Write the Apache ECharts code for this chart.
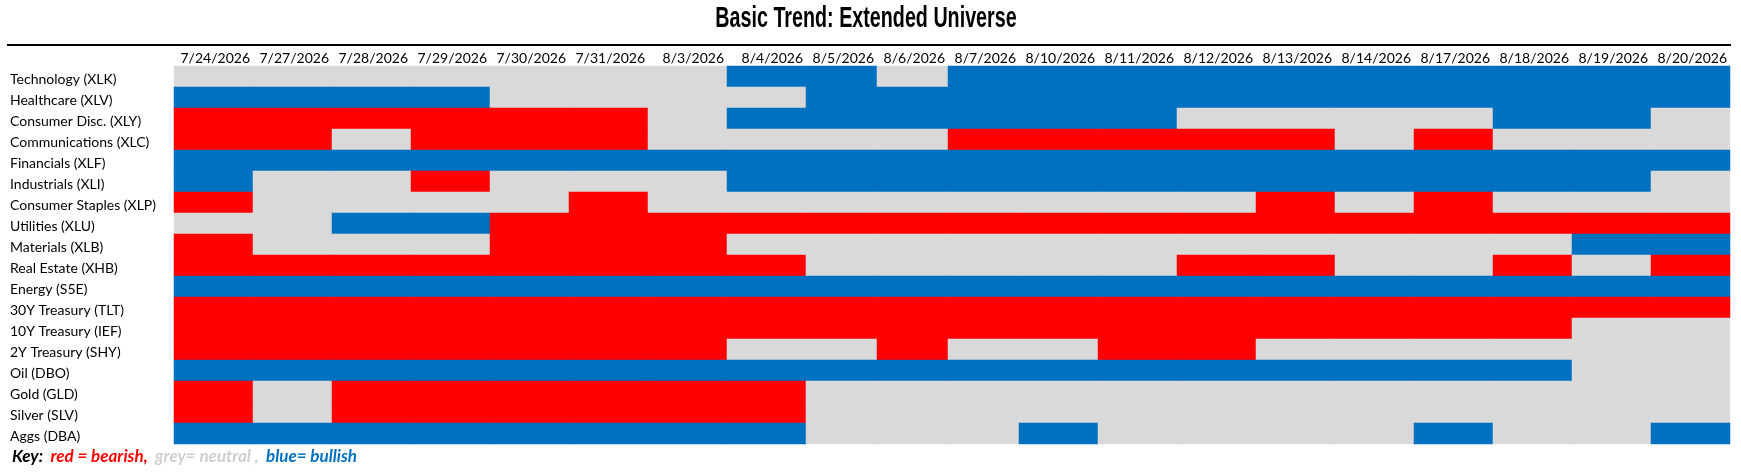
<!DOCTYPE html>
<html>
<head>
<meta charset="utf-8">
<script src="https://cdn.jsdelivr.net/npm/echarts@6/dist/echarts.min.js"></script>
<style>
html,body{margin:0;padding:0;background:#fff;}
#chart{width:1741px;height:473px;}
</style>
</head>
<body>
<div id="chart"></div>
<script>
// ---- data ----
const dates = ['7/24/2026','7/27/2026','7/28/2026','7/29/2026','7/30/2026','7/31/2026','8/3/2026','8/4/2026','8/5/2026','8/6/2026','8/7/2026','8/10/2026','8/11/2026','8/12/2026','8/13/2026','8/14/2026','8/17/2026','8/18/2026','8/19/2026','8/20/2026'];

const assets = ['Technology (XLK)','Healthcare (XLV)','Consumer Disc. (XLY)','Communications (XLC)','Financials (XLF)','Industrials (XLI)','Consumer Staples (XLP)','Utilities (XLU)','Materials (XLB)','Real Estate (XHB)','Energy (S5E)','30Y Treasury (TLT)','10Y Treasury (IEF)','2Y Treasury (SHY)','Oil (DBO)','Gold (GLD)','Silver (SLV)','Aggs (DBA)'];

// -1 = bearish (red), 0 = neutral (grey), 1 = bullish (blue)
const technology      = [ 0, 0, 0, 0, 0, 0, 0, 1, 1, 0, 1, 1, 1, 1, 1, 1, 1, 1, 1, 1];
const healthcare      = [ 1, 1, 1, 1, 0, 0, 0, 0, 1, 1, 1, 1, 1, 1, 1, 1, 1, 1, 1, 1];
const consumerDisc    = [-1,-1,-1,-1,-1,-1, 0, 1, 1, 1, 1, 1, 1, 0, 0, 0, 0, 1, 1, 0];
const communications  = [-1,-1, 0,-1,-1,-1, 0, 0, 0, 0,-1,-1,-1,-1,-1, 0,-1, 0, 0, 0];
const financials      = [ 1, 1, 1, 1, 1, 1, 1, 1, 1, 1, 1, 1, 1, 1, 1, 1, 1, 1, 1, 1];
const industrials     = [ 1, 0, 0,-1, 0, 0, 0, 1, 1, 1, 1, 1, 1, 1, 1, 1, 1, 1, 1, 0];
const consumerStaples = [-1, 0, 0, 0, 0,-1, 0, 0, 0, 0, 0, 0, 0, 0,-1, 0,-1, 0, 0, 0];
const utilities       = [ 0, 0, 1, 1,-1,-1,-1,-1,-1,-1,-1,-1,-1,-1,-1,-1,-1,-1,-1,-1];
const materials       = [-1, 0, 0, 0,-1,-1,-1, 0, 0, 0, 0, 0, 0, 0, 0, 0, 0, 0, 1, 1];
const realEstate      = [-1,-1,-1,-1,-1,-1,-1,-1, 0, 0, 0, 0, 0,-1,-1, 0, 0,-1, 0,-1];
const energy          = [ 1, 1, 1, 1, 1, 1, 1, 1, 1, 1, 1, 1, 1, 1, 1, 1, 1, 1, 1, 1];
const treasury30Y     = [-1,-1,-1,-1,-1,-1,-1,-1,-1,-1,-1,-1,-1,-1,-1,-1,-1,-1,-1,-1];
const treasury10Y     = [-1,-1,-1,-1,-1,-1,-1,-1,-1,-1,-1,-1,-1,-1,-1,-1,-1,-1, 0, 0];
const treasury2Y      = [-1,-1,-1,-1,-1,-1,-1, 0, 0,-1, 0, 0,-1,-1, 0, 0, 0, 0, 0, 0];
const oil             = [ 1, 1, 1, 1, 1, 1, 1, 1, 1, 1, 1, 1, 1, 1, 1, 1, 1, 1, 0, 0];
const gold            = [-1, 0,-1,-1,-1,-1,-1,-1, 0, 0, 0, 0, 0, 0, 0, 0, 0, 0, 0, 0];
const silver          = [-1, 0,-1,-1,-1,-1,-1,-1, 0, 0, 0, 0, 0, 0, 0, 0, 0, 0, 0, 0];
const aggs            = [ 1, 1, 1, 1, 1, 1, 1, 1, 0, 0, 0, 1, 0, 0, 0, 0, 1, 0, 0, 1];

const rows = [technology, healthcare, consumerDisc, communications, financials, industrials,
  consumerStaples, utilities, materials, realEstate, energy, treasury30Y, treasury10Y,
  treasury2Y, oil, gold, silver, aggs];

const titleText = 'Basic Trend: Extended Universe';

// ---- layout (column groups have different widths, as in the source sheet) ----
const RED = '#FF0000', GREY = '#D9D9D9', BLUE = '#0070C0';
const TOP = 66, ROWH = 21;
const groups = [
  {start: 0,  end: 8,  left: 174,  colW: 79},
  {start: 8,  end: 11, left: 806,  colW: 71},
  {start: 11, end: 20, left: 1019, colW: 79}
];
const FONT = 'Lato';

const grids = [], xAxes = [], yAxes = [], series = [];
groups.forEach((g, gi) => {
  const n = g.end - g.start;
  grids.push({left: g.left, top: TOP, width: n * g.colW, height: assets.length * ROWH,
    containLabel: false, outerBoundsMode: 'none'});
  xAxes.push({
    type: 'category', gridIndex: gi, position: 'top',
    data: dates.slice(g.start, g.end),
    axisLine: {show: false}, axisTick: {show: false}, splitLine: {show: false},
    axisLabel: {
      interval: 0, margin: 1, align: 'center',
      formatter: v => '{d|' + v + '}',
      rich: {d: {width: g.colW - 6, align: 'right', fontFamily: FONT, fontSize: 14, color: '#000'}}
    }
  });
  yAxes.push({
    type: 'category', gridIndex: gi, inverse: true, data: assets,
    axisLine: {show: false}, axisTick: {show: false}, splitLine: {show: false},
    axisLabel: gi === 0 ? {show: true, interval: 0, align: 'left', margin: 164,
      formatter: v => '{a|' + v + '}',
      rich: {a: {padding: [6, 0, 0, 0], fontFamily: FONT, fontSize: 14, color: '#000'}},
      fontFamily: FONT, fontSize: 14, color: '#000'} : {show: false}
  });
  const data = [];
  rows.forEach((r, ri) => {
    for (let c = g.start; c < g.end; c++) data.push([c - g.start, ri, r[c]]);
  });
  series.push({type: 'heatmap', xAxisIndex: gi, yAxisIndex: gi, data: data,
    itemStyle: {borderWidth: 0}, emphasis: {disabled: true}, progressive: 0});
});

const chart = echarts.init(document.getElementById('chart'), null, {renderer: 'canvas'});
chart.setOption({
  animation: false,
  backgroundColor: '#ffffff',
  grid: grids, xAxis: xAxes, yAxis: yAxes, series: series,
  visualMap: {
    type: 'piecewise', show: false, dimension: 2,
    pieces: [{value: -1, color: RED}, {value: 0, color: GREY}, {value: 1, color: BLUE}]
  },
  graphic: [
    {type: 'text', x: 866, y: 19, scaleX: 0.68,
      style: {text: titleText, align: 'center', verticalAlign: 'middle',
        font: 'bold 29px "Liberation Sans", Arial, sans-serif', fill: '#000'}},
    {type: 'line', shape: {x1: 7, y1: 45, x2: 1731, y2: 45},
      style: {stroke: '#000', lineWidth: 2}},
    {type: 'text', x: 12, y: 457,
      style: {
        text: '{k|Key:}  {r|red = bearish,}  {g|grey= neutral ,}  {b|blue= bullish}',
        verticalAlign: 'middle', align: 'left',
        font: 'italic bold 17px Lato',
        rich: {
          k: {fontFamily: FONT, fontWeight: 'bold', fontStyle: 'italic', fontSize: 17, fill: '#000', color: '#000'},
          r: {fontFamily: FONT, fontWeight: 'bold', fontStyle: 'italic', fontSize: 17, fill: RED, color: RED},
          g: {fontFamily: FONT, fontWeight: 'bold', fontStyle: 'italic', fontSize: 17, fill: '#CFCFCF', color: '#CFCFCF'},
          b: {fontFamily: FONT, fontWeight: 'bold', fontStyle: 'italic', fontSize: 17, fill: BLUE, color: BLUE}
        }
      }}
  ]
});
</script>
</body>
</html>
